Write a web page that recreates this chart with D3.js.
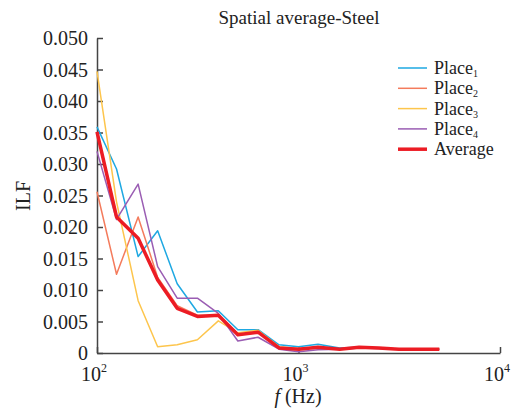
<!DOCTYPE html>
<html>
<head>
<meta charset="utf-8">
<script src="https://cdn.jsdelivr.net/npm/d3@7"></script>
<style>
  body { margin: 0; background: #fff; }
  svg text { font-family: "Liberation Serif", "Times New Roman", serif; fill: #222; }
</style>
</head>
<body>
<script>
const WIDTH = 516;
const HEIGHT = 408;

// 1/3 octave band centre frequencies (Hz)
var freqs = [100, 125, 160, 200, 250, 315, 400, 500, 630, 800, 1000, 1250, 1600, 2000, 2500, 3150, 4000, 5000];

var place1 = [0.0359, 0.0292, 0.0153, 0.0194, 0.0110, 0.0065, 0.0067, 0.0037, 0.0037, 0.0013, 0.0010, 0.0014, 0.0008, 0.0009, 0.0008, 0.0006, 0.0006, 0.0006];
var place2 = [0.0256, 0.0125, 0.0216, 0.0120, 0.0075, 0.0060, 0.0060, 0.0030, 0.0033, 0.0008, 0.0007, 0.0009, 0.0006, 0.0009, 0.0008, 0.0006, 0.0006, 0.0006];
var place3 = [0.0447, 0.0240, 0.0083, 0.0010, 0.0013, 0.0021, 0.0051, 0.0032, 0.0036, 0.0010, 0.0007, 0.0008, 0.0006, 0.0009, 0.0008, 0.0006, 0.0006, 0.0006];
var place4 = [0.0320, 0.0212, 0.0268, 0.0137, 0.0087, 0.0087, 0.0063, 0.0019, 0.0025, 0.0006, 0.0002, 0.0005, 0.0006, 0.0008, 0.0007, 0.0006, 0.0006, 0.0006];
var average = [0.0351, 0.0216, 0.0182, 0.0116, 0.0071, 0.0058, 0.0060, 0.0029, 0.0033, 0.0008, 0.0006, 0.0009, 0.0006, 0.0009, 0.0008, 0.0006, 0.0006, 0.0006];

var yTicks = [0, 0.005, 0.010, 0.015, 0.020, 0.025, 0.030, 0.035, 0.040, 0.045, 0.050];
var xTicks = [100, 1000, 10000];

var series = [
    {name: 'Place', sub: '1', values: place1, color: '#1ea8e2', width: 1.5},
    {name: 'Place', sub: '2', values: place2, color: '#f47b5c', width: 1.5},
    {name: 'Place', sub: '3', values: place3, color: '#fdc54c', width: 1.5},
    {name: 'Place', sub: '4', values: place4, color: '#9a5db3', width: 1.5},
    {name: 'Average', sub: '', values: average, color: '#ec1c24', width: 3.5}
];

var svg = d3.select('body').append('svg')
    .attr('width', WIDTH)
    .attr('height', HEIGHT);

var xScale = d3.scaleLog().domain([100, 10000]).range([97, 500]);
var yScale = d3.scaleLinear().domain([0, 0.05]).range([353, 38]);

var axisColor = '#444';

// y axis, ticks pointing inward
var yAxis = svg.append('g')
    .attr('transform', 'translate(97,0)')
    .call(d3.axisRight(yScale).tickValues(yTicks).tickSize(6).tickSizeOuter(0).tickFormat(''));
yAxis.select('.domain').attr('stroke', axisColor).attr('stroke-width', 1.5);
yAxis.selectAll('.tick line').attr('stroke', axisColor).attr('stroke-width', 1.5);

svg.append('g').selectAll('text')
    .data(yTicks)
    .enter().append('text')
    .attr('x', 88)
    .attr('y', function (d) { return yScale(d) + 7; })
    .attr('text-anchor', 'end')
    .attr('font-size', 20)
    .text(function (d) { return d === 0 ? '0' : d3.format('.3f')(d); });

// x axis, ticks pointing up
var xAxis = svg.append('g')
    .attr('transform', 'translate(0,353)')
    .call(d3.axisTop(xScale).tickValues(xTicks).tickSize(6).tickSizeOuter(0).tickFormat(''));
xAxis.select('.domain').attr('stroke', axisColor).attr('stroke-width', 1.5);
xAxis.selectAll('.tick line').attr('stroke', axisColor).attr('stroke-width', 1.5);

var xLabels = svg.append('g').selectAll('text')
    .data(xTicks)
    .enter().append('text')
    .attr('x', function (d) { return xScale(d) - 3; })
    .attr('y', 381)
    .attr('text-anchor', 'middle')
    .attr('font-size', 20);
xLabels.append('tspan').text('10');
xLabels.append('tspan')
    .attr('font-size', 12)
    .attr('dy', -9)
    .text(function (d) { return Math.round(Math.log10(d)); });

// lines
var line = d3.line()
    .x(function (d, i) { return xScale(freqs[i]); })
    .y(function (d) { return yScale(d); });

svg.append('g').selectAll('path')
    .data(series)
    .enter().append('path')
    .attr('d', function (d) { return line(d.values); })
    .attr('fill', 'none')
    .attr('stroke', function (d) { return d.color; })
    .attr('stroke-width', function (d) { return d.width; })
    .attr('stroke-linejoin', 'round');

// title and axis labels
svg.append('text')
    .attr('x', 299)
    .attr('y', 24)
    .attr('text-anchor', 'middle')
    .attr('font-size', 19)
    .text('Spatial average-Steel');

var xTitle = svg.append('text')
    .attr('x', 298)
    .attr('y', 403)
    .attr('text-anchor', 'middle')
    .attr('font-size', 20);
xTitle.append('tspan').attr('font-style', 'italic').text('f');
xTitle.append('tspan').text(' (Hz)');

svg.append('text')
    .attr('transform', 'translate(30,196) rotate(-90)')
    .attr('text-anchor', 'middle')
    .attr('font-size', 20)
    .text('ILF');

// legend
var legend = svg.append('g').selectAll('g')
    .data(series)
    .enter().append('g')
    .attr('transform', function (d, i) { return 'translate(398,' + (68 + i * 20.3) + ')'; });

legend.append('line')
    .attr('x1', 0).attr('x2', 29)
    .attr('stroke', function (d) { return d.color; })
    .attr('stroke-width', function (d) { return d.sub ? 1.5 : 3.5; });

var legendText = legend.append('text')
    .attr('x', 36)
    .attr('y', 6)
    .attr('font-size', 18);
legendText.append('tspan').text(function (d) { return d.name; });
legendText.append('tspan')
    .attr('font-size', 10)
    .attr('dy', 3)
    .text(function (d) { return d.sub; });
</script>
</body>
</html>
